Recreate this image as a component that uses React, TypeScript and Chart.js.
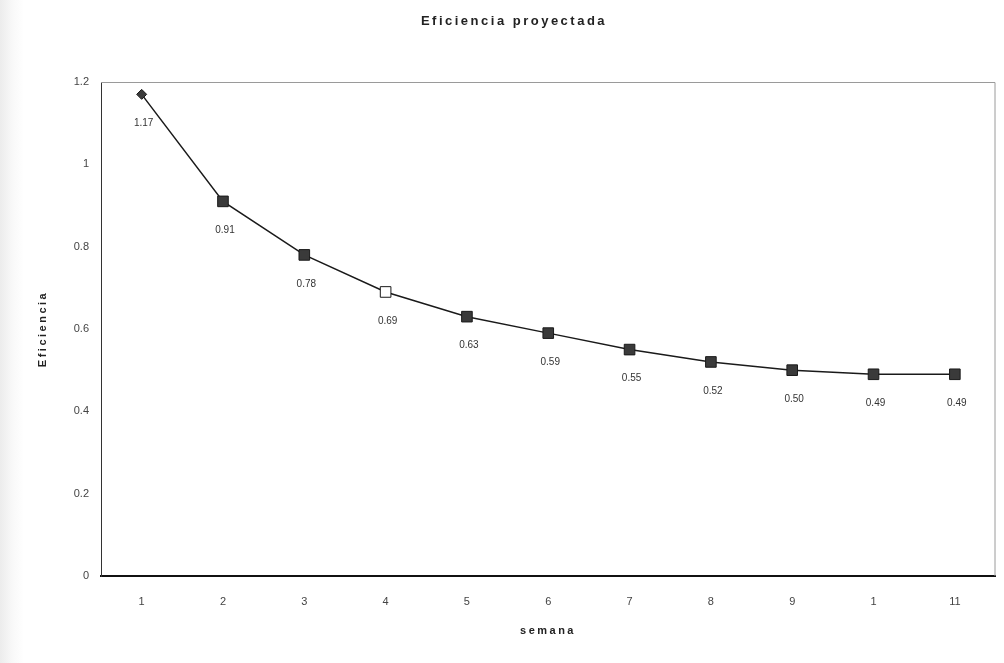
import React, { useEffect, useRef } from "react";
import { Chart, registerables } from "chart.js";

Chart.register(...registerables);

const semanas = ["1", "2", "3", "4", "5", "6", "7", "8", "9", "1", "11"];
const eficiencia = [1.17, 0.91, 0.78, 0.69, 0.63, 0.59, 0.55, 0.52, 0.5, 0.49, 0.49];
const yTicks = [0, 0.2, 0.4, 0.6, 0.8, 1, 1.2];
const chartTitle = "Eficiencia proyectada";
const xTitle = "semana";
const yTitle = "Eficiencia";

const FONT = "'Liberation Sans', Arial, sans-serif";

const framePlugin = {
  id: "frame",
  beforeDatasetsDraw(chart: any) {
    const { ctx, chartArea } = chart;
    ctx.save();
    ctx.strokeStyle = "#9a9a9a";
    ctx.lineWidth = 1;
    ctx.beginPath();
    ctx.moveTo(chartArea.left, chartArea.top + 0.5);
    ctx.lineTo(chartArea.right - 0.5, chartArea.top + 0.5);
    ctx.lineTo(chartArea.right - 0.5, chartArea.bottom);
    ctx.stroke();
    ctx.restore();
  },
};

const labelPlugin = {
  id: "pointLabels",
  afterDatasetsDraw(chart: any) {
    const { ctx } = chart;
    const meta = chart.getDatasetMeta(0);
    ctx.save();
    ctx.font = `10px ${FONT}`;
    ctx.fillStyle = "#333";
    ctx.textAlign = "center";
    ctx.textBaseline = "middle";
    meta.data.forEach((pt: any, i: number) => {
      ctx.fillText(eficiencia[i].toFixed(2), pt.x + 2, pt.y + 29);
    });
    ctx.restore();
  },
};

const titlesPlugin = {
  id: "spacedTitles",
  afterDraw(chart: any) {
    const { ctx, chartArea } = chart;
    ctx.save();
    ctx.fillStyle = "#222";
    ctx.textAlign = "center";
    ctx.textBaseline = "middle";
    (ctx as any).letterSpacing = "2.5px";
    ctx.font = `bold 13px ${FONT}`;
    ctx.fillText(chartTitle, 514, 21);
    ctx.font = `bold 11px ${FONT}`;
    ctx.fillText(xTitle, 548, 631);
    ctx.translate(43, (chartArea.top + chartArea.bottom) / 2);
    ctx.rotate(-Math.PI / 2);
    ctx.fillText(yTitle, 0, 0);
    ctx.restore();
  },
};

export default function App() {
  const ref = useRef<HTMLCanvasElement>(null);

  useEffect(() => {
    document.body.style.margin = "0";
    const chart = new Chart(ref.current!, {
      type: "line",
      data: {
        labels: semanas,
        datasets: [
          {
            data: eficiencia,
            borderColor: "#1a1a1a",
            borderWidth: 1.5,
            pointStyle: eficiencia.map((_, i) => (i === 0 ? "rectRot" : "rect")) as any,
            pointRadius: eficiencia.map((_, i) => (i === 0 ? 5 : 7.5)),
            pointBackgroundColor: eficiencia.map((_, i) => (i === 3 ? "#ffffff" : "#3a3a3a")),
            pointBorderColor: "#1a1a1a",
            pointBorderWidth: 1,
            tension: 0,
          },
        ],
      },
      options: {
        animation: false,
        responsive: false,
        maintainAspectRatio: false,
        layout: { padding: { left: 0, right: 4, top: 82, bottom: 0 } },
        plugins: {
          legend: { display: false },
          tooltip: { enabled: false },
          title: { display: false },
        },
        scales: {
          x: {
            offset: true,
            grid: { display: false, drawTicks: false },
            border: { display: true, color: "#111", width: 2 },
            ticks: { color: "#444", font: { family: FONT, size: 11 }, padding: 19 },
            afterFit(scale: any) {
              scale.height = 87;
            },
          },
          y: {
            min: 0,
            max: 1.2,
            afterBuildTicks(scale: any) {
              scale.ticks = yTicks.map((v) => ({ value: v }));
            },
            grid: { display: false, drawTicks: false },
            border: { display: true, color: "#333", width: 1 },
            ticks: {
              color: "#444",
              font: { family: FONT, size: 11 },
              padding: 12,
              callback: (v: any) => String(Math.round(Number(v) * 10) / 10),
            },
            afterFit(scale: any) {
              scale.width = 101;
            },
          },
        },
      },
      plugins: [framePlugin, labelPlugin, titlesPlugin],
    });
    return () => chart.destroy();
  }, []);

  return (
    <div
      style={{
        position: "absolute",
        left: 0,
        top: 0,
        width: 1004,
        height: 663,
        background: "linear-gradient(to right, #ececec 0px, #f8f8f8 12px, #ffffff 24px)",
      }}
    >
      <canvas ref={ref} width={1004} height={663} style={{ display: "block" }} />
    </div>
  );
}
